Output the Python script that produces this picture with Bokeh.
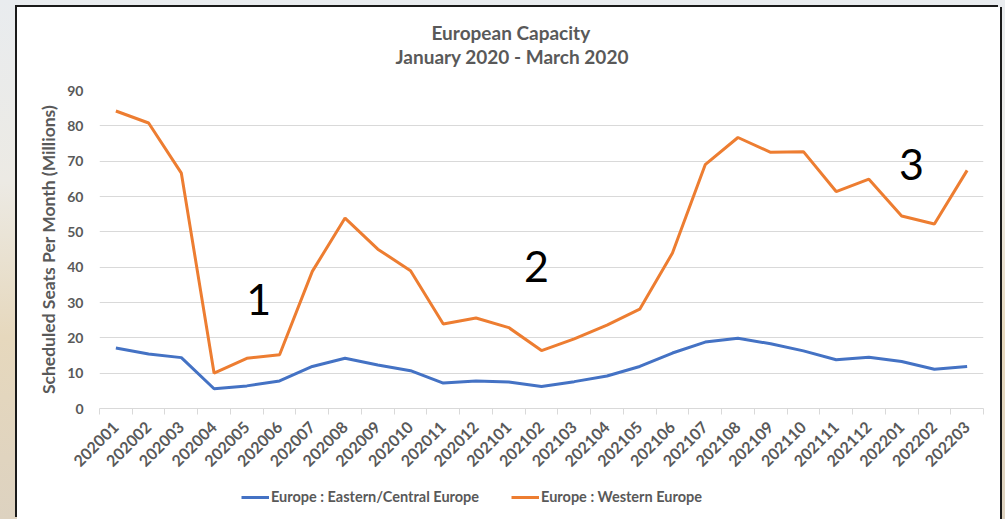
from bokeh.plotting import figure
from bokeh.models import (Range1d, FixedTicker, Legend, LegendItem, ColumnDataSource,
                          Title, LabelSet)
from bokeh.layouts import column
from bokeh.embed import file_html
from bokeh.resources import INLINE
from bokeh.core.properties import value

months = ["202001", "202002", "202003", "202004", "202005", "202006", "202007",
          "202008", "202009", "202010", "202011", "202012", "202101", "202102",
          "202103", "202104", "202105", "202106", "202107", "202108", "202109",
          "202110", "202111", "202112", "202201", "202202", "202203"]
eastern = [17.1, 15.4, 14.4, 5.6, 6.4, 7.8, 11.9, 14.2, 12.3, 10.7, 7.2, 7.8, 7.5,
           6.2, 7.6, 9.2, 11.9, 15.7, 18.8, 19.9, 18.3, 16.3, 13.8, 14.5, 13.3,
           11.1, 11.9]
western = [84.2, 80.8, 66.6, 10.0, 14.2, 15.2, 38.8, 53.9, 45.1, 39.0, 23.9, 25.6,
           22.9, 16.4, 19.7, 23.6, 28.1, 44.0, 69.0, 76.7, 72.5, 72.7, 61.4, 64.9,
           54.5, 52.2, 67.4]
y_ticks = [0, 10, 20, 30, 40, 50, 60, 70, 80, 90]
series_names = ["Europe : Eastern/Central Europe", "Europe : Western Europe"]
title_lines = ["European Capacity", "January 2020 - March 2020"]
notes = ["1", "2", "3"]
note_x = [4.36, 12.85, 24.3]
note_y = [30.8, 40.2, 69.0]

GRAY = "#595959"
FONT = "Lato"
BLUE = "#4472C4"
ORANGE = "#ED7D31"
idx = list(range(len(months)))

p = figure(width=983, height=471, output_backend="svg", toolbar_location=None,
           x_range=Range1d(-0.5, len(months) - 0.5), y_range=Range1d(0, 90),
           min_border_left=82, min_border_right=17, min_border_top=83,
           min_border_bottom=70, background_fill_color="white",
           border_fill_color="white", outline_line_color=None)

# title: first line is the figure title (outermost); an empty spacer sits
# nearest the plot, then the second line
p.title.text = title_lines[0]
p.title.align = "left"
p.title.offset = 332
p.title.text_font = FONT
p.title.text_font_size = "19px"
p.title.text_color = GRAY
p.title.text_font_style = "bold"
p.title.standoff = -2
gap = Title(text=" ", align="left", text_font=FONT, text_font_size="10px",
            text_color="white", standoff=9)
p.add_layout(gap, "above")
t2 = Title(text=title_lines[1], align="left", offset=296, text_font=FONT,
           text_font_size="19px", text_color=GRAY, text_font_style="bold", standoff=0)
p.add_layout(t2, "above")

# axes
p.xaxis.ticker = FixedTicker(ticks=idx, minor_ticks=[i - 0.5 for i in range(len(months) + 1)])
p.xaxis.major_label_overrides = {i: m for i, m in zip(idx, months)}
p.xaxis.major_label_orientation = 0.785398
p.xaxis.major_tick_in = 0
p.xaxis.major_tick_out = 0
p.xaxis.minor_tick_in = 0
p.xaxis.minor_tick_out = 6
p.xaxis.minor_tick_line_color = "#d9d9d9"
p.xaxis.axis_line_color = "#d9d9d9"
p.xaxis.major_label_text_font = FONT
p.xaxis.major_label_text_font_size = "16px"
p.xaxis.major_label_text_font_style = "bold"
p.xaxis.major_label_text_color = GRAY
p.xaxis.major_label_standoff = 10

p.yaxis.ticker = FixedTicker(ticks=y_ticks)
p.yaxis.axis_line_color = None
p.yaxis.major_tick_line_color = None
p.yaxis.minor_tick_line_color = None
p.yaxis.major_label_text_font = FONT
p.yaxis.major_label_text_font_size = "14px"
p.yaxis.major_label_text_font_style = "bold"
p.yaxis.major_label_text_color = GRAY
p.yaxis.major_label_standoff = 10
p.yaxis.axis_label = "Scheduled Seats Per Month (Millions)"
p.yaxis.axis_label_text_font = FONT
p.yaxis.axis_label_text_font_size = "17.5px"
p.yaxis.axis_label_text_font_style = "bold"
p.yaxis.axis_label_text_color = GRAY
p.yaxis.axis_label_standoff = 5

p.xgrid.grid_line_color = None
p.ygrid.grid_line_color = "#d9d9d9"
p.ygrid.grid_line_width = 1

src = ColumnDataSource(dict(x=idx, east=eastern, west=western))
p.line("x", "east", source=src, line_color=BLUE, line_width=3)
p.line("x", "west", source=src, line_color=ORANGE, line_width=3)

nsrc = ColumnDataSource(dict(x=note_x, y=note_y, t=notes))
p.add_layout(LabelSet(x="x", y="y", text="t", source=nsrc, text_font=value(FONT),
                      text_font_size="43px", text_color="black",
                      text_align="center", text_baseline="middle"))

# legend strip below the chart (keys use off-screen placeholder renderers)
pleg = figure(width=983, height=41, output_backend="svg", toolbar_location=None,
              x_range=Range1d(0, 1), y_range=Range1d(0, 1),
              x_axis_type=None, y_axis_type=None, min_border=0,
              outline_line_color=None, border_fill_color="white")
pleg.xgrid.grid_line_color = None
pleg.ygrid.grid_line_color = None
k1 = pleg.line(x=[5, 6], y=[5, 6], line_color=BLUE, line_width=3)
k2 = pleg.line(x=[5, 6], y=[5, 6], line_color=ORANGE, line_width=3)
legend = Legend(items=[LegendItem(label=series_names[0], renderers=[k1]),
                       LegendItem(label=series_names[1], renderers=[k2])],
                orientation="horizontal", location=(142, 14),
                label_text_font=FONT, label_text_font_size="14.5px",
                label_text_font_style="bold",
                label_text_color=GRAY, glyph_width=28, glyph_height=14,
                label_standoff=2, spacing=32, border_line_color=None,
                background_fill_alpha=0, margin=0, padding=4)
pleg.add_layout(legend, "center")

inner = column(p, pleg, spacing=0, margin=(7, 5, 0, 17),
               styles={"background": "white",
                       "box-shadow": "-2px -2px 0 0 #1a1a1a, 2px 0 0 0 #1a1a1a"})
outer = column(inner, spacing=0,
               styles={"background": "linear-gradient(180deg, #e9ecef 0%, #eceae4 35%, #e6d8bd 65%, #ddd2c0 100%)"})

open("out.html", "w").write(file_html(outer, INLINE))
